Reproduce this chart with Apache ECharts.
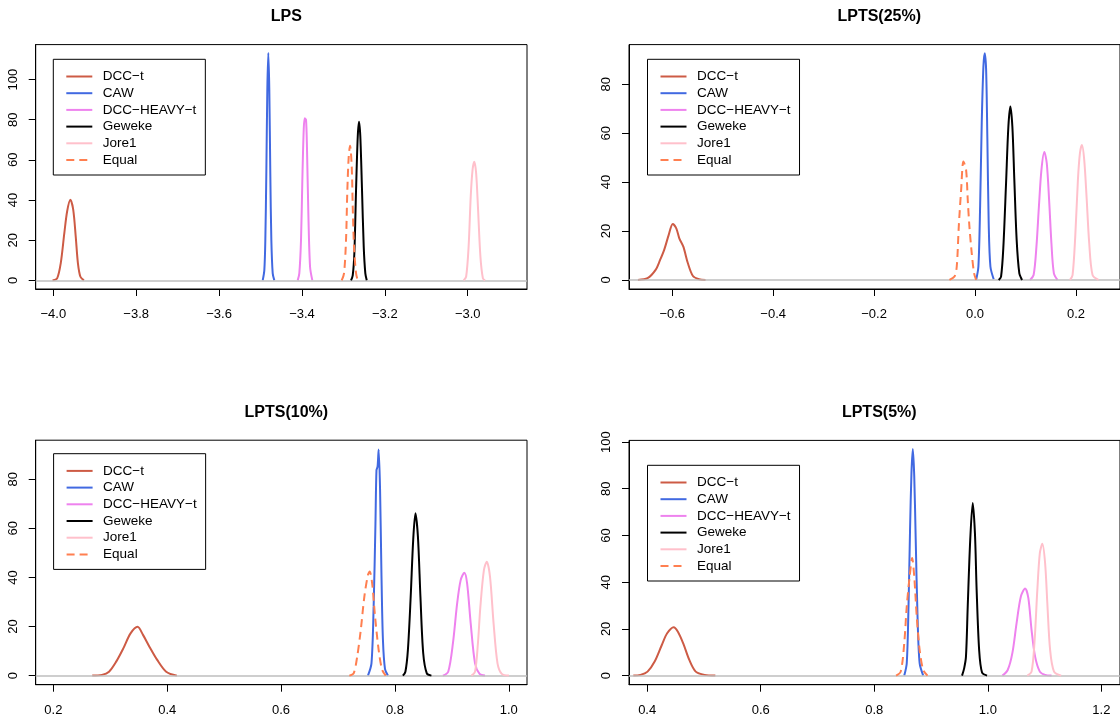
<!DOCTYPE html>
<html>
<head>
<meta charset="utf-8">
<script src="https://cdn.jsdelivr.net/npm/echarts@6/dist/echarts.min.js"></script>
<style>
  html, body { margin: 0; padding: 0; background: #fff; }
  #chart { width: 1120px; height: 719px; }
</style>
</head>
<body>
<div id="chart"></div>
<script>
// model names, in legend order
const modelNames = ['DCC\u2212t', 'CAW', 'DCC\u2212HEAVY\u2212t', 'Geweke', 'Jore1', 'Equal'];
const panelTitles = ['LPS', 'LPTS(25%)', 'LPTS(10%)', 'LPTS(5%)'];

// tick values per panel
const xTicks = [
  [-4.0, -3.8, -3.6, -3.4, -3.2, -3.0],
  [-0.6, -0.4, -0.2, 0.0, 0.2],
  [0.2, 0.4, 0.6, 0.8, 1.0],
  [0.4, 0.6, 0.8, 1.0, 1.2]
];
const yTicks = [
  [0, 20, 40, 60, 80, 100],
  [0, 20, 40, 60, 80],
  [0, 20, 40, 60, 80],
  [0, 20, 40, 60, 80, 100]
];

// density curves, [x, density]
// LPS
const lpsDccT = [[-4.0019,0],[-3.9908,1.0],[-3.9821,8.5],[-3.9735,23.4],[-3.9667,34.3],[-3.9588,40.1],[-3.9519,35.1],[-3.9459,21.8],[-3.9406,8.5],[-3.9346,1.8],[-3.9262,0]];
const lpsCaw = [[-3.4947,0],[-3.4908,5.1],[-3.4884,20.1],[-3.4860,53.3],[-3.4836,94.9],[-3.4812,113.2],[-3.4788,94.9],[-3.4764,53.3],[-3.4739,20.1],[-3.4706,3.5],[-3.4667,0]];
const lpsHeavy = [[-3.4103,0],[-3.4064,3.5],[-3.4023,20.1],[-3.3991,50.0],[-3.3958,74.9],[-3.3934,80.7],[-3.3902,79.9],[-3.3878,64.9],[-3.3846,33.4],[-3.3805,6.8],[-3.3750,0]];
const lpsGeweke = [[-3.2816,0],[-3.2775,2.5],[-3.2736,13.5],[-3.2695,45.0],[-3.2654,71.6],[-3.2623,79.0],[-3.2592,71.6],[-3.2551,45.0],[-3.2510,16.8],[-3.2471,3.5],[-3.2437,0]];
const lpsJore = [[-3.0099,0],[-3.0039,1.8],[-2.9979,16.8],[-2.9928,41.7],[-2.9884,55.0],[-2.9841,59.1],[-2.9797,53.3],[-2.9754,36.7],[-2.9694,11.8],[-2.9634,1.0],[-2.9583,0]];
const lpsEqual = [[-3.3041,0],[-3.2985,3.5],[-3.2937,20.1],[-3.2905,45.0],[-3.2872,61.6],[-3.2840,67.0],[-3.2799,56.6],[-3.2775,36.7],[-3.2744,16.8],[-3.2695,3.5],[-3.2654,0]];
// LPTS(25%)
const p25DccT = [[-0.668,0],[-0.649,0.7],[-0.633,4.1],[-0.624,8.2],[-0.616,12.3],[-0.607,18.4],[-0.599,22.9],[-0.592,21.1],[-0.586,17.0],[-0.578,13.6],[-0.569,6.8],[-0.559,1.6],[-0.547,0.3],[-0.534,0]];
const p25Caw = [[0.0022,0],[0.0067,5.5],[0.0101,30.0],[0.0133,64.1],[0.0166,87.2],[0.0192,92.7],[0.0220,85.9],[0.0245,57.2],[0.0271,23.2],[0.0305,5.5],[0.0370,0.3]];
const p25Heavy = [[0.1090,0],[0.1161,2.0],[0.1217,13.6],[0.1266,30.0],[0.1316,45.0],[0.1373,52.3],[0.1422,47.7],[0.1472,31.3],[0.1514,15.0],[0.1563,2.7],[0.1634,0]];
const p25Geweke = [[0.0469,0],[0.0516,1.4],[0.0562,13.6],[0.0615,39.5],[0.0661,62.7],[0.0700,70.9],[0.0740,62.7],[0.0779,40.9],[0.0825,16.4],[0.0878,2.7],[0.0932,0]];
const p25Jore = [[0.1881,0],[0.1933,2.0],[0.1986,17.7],[0.2039,40.9],[0.2079,51.8],[0.2119,55.2],[0.2164,49.1],[0.2210,34.1],[0.2263,15.0],[0.2329,2.0],[0.2447,0]];
const p25Equal = [[-0.0507,0],[-0.0407,1.4],[-0.0362,5.5],[-0.0322,21.8],[-0.0275,36.8],[-0.0230,48.4],[-0.0177,45.0],[-0.0144,32.7],[-0.0111,21.8],[-0.0065,10.9],[-0.0018,2.7],[0.0022,0]];
// LPTS(10%)
const p10DccT = [[0.2683,0],[0.2853,0.3],[0.2978,1.6],[0.3104,5.7],[0.3229,11.1],[0.3356,17.2],[0.3480,19.9],[0.3575,16.6],[0.3687,11.8],[0.3824,6.4],[0.3982,1.6],[0.4170,0]];
const p10Caw = [[0.7526,0],[0.7588,5.0],[0.7626,28.1],[0.7658,62.0],[0.7676,83.7],[0.7695,85.1],[0.7714,92.1],[0.7739,75.8],[0.7763,41.9],[0.7789,14.8],[0.7826,2.6],[0.7877,0]];
const p10Heavy = [[0.8843,0],[0.8936,1.6],[0.9019,13.2],[0.9093,29.4],[0.9155,38.9],[0.9219,41.9],[0.9268,37.6],[0.9331,21.3],[0.9407,5.0],[0.9487,0.7],[0.9582,0]];
const p10Geweke = [[0.8140,0],[0.8184,1.6],[0.8228,10.5],[0.8277,32.2],[0.8321,55.3],[0.8360,66.1],[0.8404,56.6],[0.8448,32.2],[0.8497,9.1],[0.8560,0.9],[0.8641,0]];
const p10Jore = [[0.9344,0],[0.9407,1.6],[0.9458,13.2],[0.9501,28.1],[0.9563,43.0],[0.9614,46.4],[0.9670,40.3],[0.9733,21.3],[0.9802,5.0],[0.9877,0.7],[1.0002,0]];
const p10Equal = [[0.7199,0],[0.7275,0.9],[0.7337,7.7],[0.7400,18.6],[0.7463,32.2],[0.7526,41.0],[0.7556,42.4],[0.7600,37.6],[0.7651,24.1],[0.7714,10.5],[0.7775,2.4],[0.7839,0]];
// LPTS(5%)
const p5DccT = [[0.3756,0],[0.3882,0.3],[0.4007,1.7],[0.4132,6.0],[0.4258,13.1],[0.4352,18.1],[0.4466,20.7],[0.4541,18.8],[0.4635,13.8],[0.4742,6.7],[0.4855,1.7],[0.5011,0.3],[0.5201,0]];
const p5Caw = [[0.8528,0],[0.8572,5.3],[0.8603,29.6],[0.8630,62.4],[0.8655,86.7],[0.8679,97.0],[0.8704,85.3],[0.8730,58.1],[0.8762,25.3],[0.8799,5.3],[0.8862,0]];
const p5Heavy = [[1.0256,0],[1.0350,2.4],[1.0432,9.6],[1.0506,22.4],[1.0582,33.9],[1.0657,37.3],[1.0714,33.2],[1.0770,19.6],[1.0833,8.1],[1.0916,1.7],[1.1009,0.3],[1.1122,0]];
const p5Geweke = [[0.9546,0],[0.9583,3.1],[0.9615,8.1],[0.9646,29.6],[0.9690,58.1],[0.9734,73.9],[0.9773,61.0],[0.9803,36.7],[0.9847,11.0],[0.9898,1.3],[0.9986,0]];
const p5Jore = [[1.0696,0],[1.0770,1.7],[1.0821,13.9],[1.0872,36.7],[1.0916,52.4],[1.0960,56.4],[1.1009,48.1],[1.1048,31.0],[1.1097,11.0],[1.1166,1.7],[1.1292,0]];
const p5Equal = [[0.8384,0],[0.8466,1.7],[0.8528,13.9],[0.8572,29.6],[0.8623,42.4],[0.8667,50.3],[0.8704,42.4],[0.8748,25.3],[0.8799,11.0],[0.8862,2.4],[0.8938,0]];

const panelCurves = [
  [lpsDccT, lpsCaw, lpsHeavy, lpsGeweke, lpsJore, lpsEqual],
  [p25DccT, p25Caw, p25Heavy, p25Geweke, p25Jore, p25Equal],
  [p10DccT, p10Caw, p10Heavy, p10Geweke, p10Jore, p10Equal],
  [p5DccT, p5Caw, p5Heavy, p5Geweke, p5Jore, p5Equal]
];

// layout (pixels) and axis extents
const grids = [
  { left: 35.7, top: 44.6, width: 491.3, height: 244.4 },
  { left: 629,  top: 44.6, width: 491.5, height: 244.4 },
  { left: 35.7, top: 440.2, width: 491.3, height: 244.5 },
  { left: 629,  top: 440.4, width: 491.5, height: 244.3 }
];
const xRange = [[-4.0425, -2.857], [-0.6857, 0.2873], [0.169, 1.032], [0.368, 1.2328]];
const yRange = [[-4.3, 117.4], [-3.7, 96.2], [-3.7, 95.9], [-3.9, 100.7]];
const legendPos = [[53.3, 59.3], [647.5, 59.3], [53.6, 453.7], [647.5, 465.3]];

const colors = ['#CD5B45', '#4169E1', '#EE82EE', '#000000', '#FFC0CB', '#FF7F50'];
const font = 'Liberation Sans, Arial, Helvetica, sans-serif';

const chart = echarts.init(document.getElementById('chart'), null, { renderer: 'canvas' });

const option = {
  animation: false,
  backgroundColor: '#fff',
  title: [],
  legend: [],
  grid: [],
  xAxis: [],
  yAxis: [],
  series: []
};

grids.forEach((g, i) => {
  option.grid.push({
    left: g.left, top: g.top, width: g.width, height: g.height,
    show: true, borderColor: '#000', borderWidth: 1, backgroundColor: 'transparent'
  });

  option.title.push({
    text: panelTitles[i],
    left: g.left + g.width / 2 - (i % 2 === 1 ? 0.5 : 0),
    textAlign: 'center',
    top: g.top - 41,
    textStyle: { fontFamily: font, fontSize: 16, fontWeight: 'bold', color: '#000' }
  });

  option.xAxis.push({
    type: 'value', gridIndex: i,
    min: xRange[i][0], max: xRange[i][1],
    axisLine: { show: true, onZero: false, lineStyle: { color: '#000', width: 1 } },
    axisTick: { show: true, customValues: xTicks[i], length: 7, lineStyle: { color: '#000' } },
    axisLabel: {
      customValues: xTicks[i], margin: 19, fontFamily: font, fontSize: 13, color: '#000',
      formatter: v => v.toFixed(1).replace('-', '\u2212')
    },
    splitLine: { show: false }
  });

  option.yAxis.push({
    type: 'value', gridIndex: i,
    min: yRange[i][0], max: yRange[i][1],
    axisLine: { show: true, onZero: false, lineStyle: { color: '#000', width: 1 } },
    axisTick: { show: true, customValues: yTicks[i], length: 7, lineStyle: { color: '#000' } },
    axisLabel: {
      customValues: yTicks[i], rotate: 90, margin: 16, fontFamily: font, fontSize: 13, color: '#000',
      formatter: v => String(v)
    },
    splitLine: { show: false }
  });

  option.legend.push({
    data: modelNames,
    orient: 'vertical',
    left: legendPos[i][0], top: legendPos[i][1],
    borderColor: '#000', borderWidth: 1, borderRadius: 0,
    padding: [10.2, 9, 8, 12],
    itemWidth: 26, itemHeight: 14, itemGap: 2.7,
    selectedMode: false,
    itemStyle: { opacity: 0 },
    textStyle: { fontFamily: font, fontSize: 13.5, color: '#000', padding: [0, 0, 0, 5.5] }
  });

  // grey zero line (abline h = 0)
  option.series.push({
    type: 'line', xAxisIndex: i, yAxisIndex: i, data: [], z: 1, silent: true,
    markLine: {
      silent: true, symbol: 'none', label: { show: false },
      lineStyle: { color: '#BEBEBE', width: 1.5, type: 'solid' },
      data: [{ yAxis: 0 }]
    }
  });

  panelCurves[i].forEach((curve, k) => {
    option.series.push({
      name: modelNames[k],
      type: 'line', xAxisIndex: i, yAxisIndex: i,
      data: curve,
      showSymbol: false, symbol: 'none',
      smooth: 0.3,
      z: 2 + k,
      color: colors[k],
      lineStyle: { color: colors[k], width: 2, type: k === 5 ? [8, 5] : 'solid' }
    });
  });
});

chart.setOption(option);
</script>
</body>
</html>
